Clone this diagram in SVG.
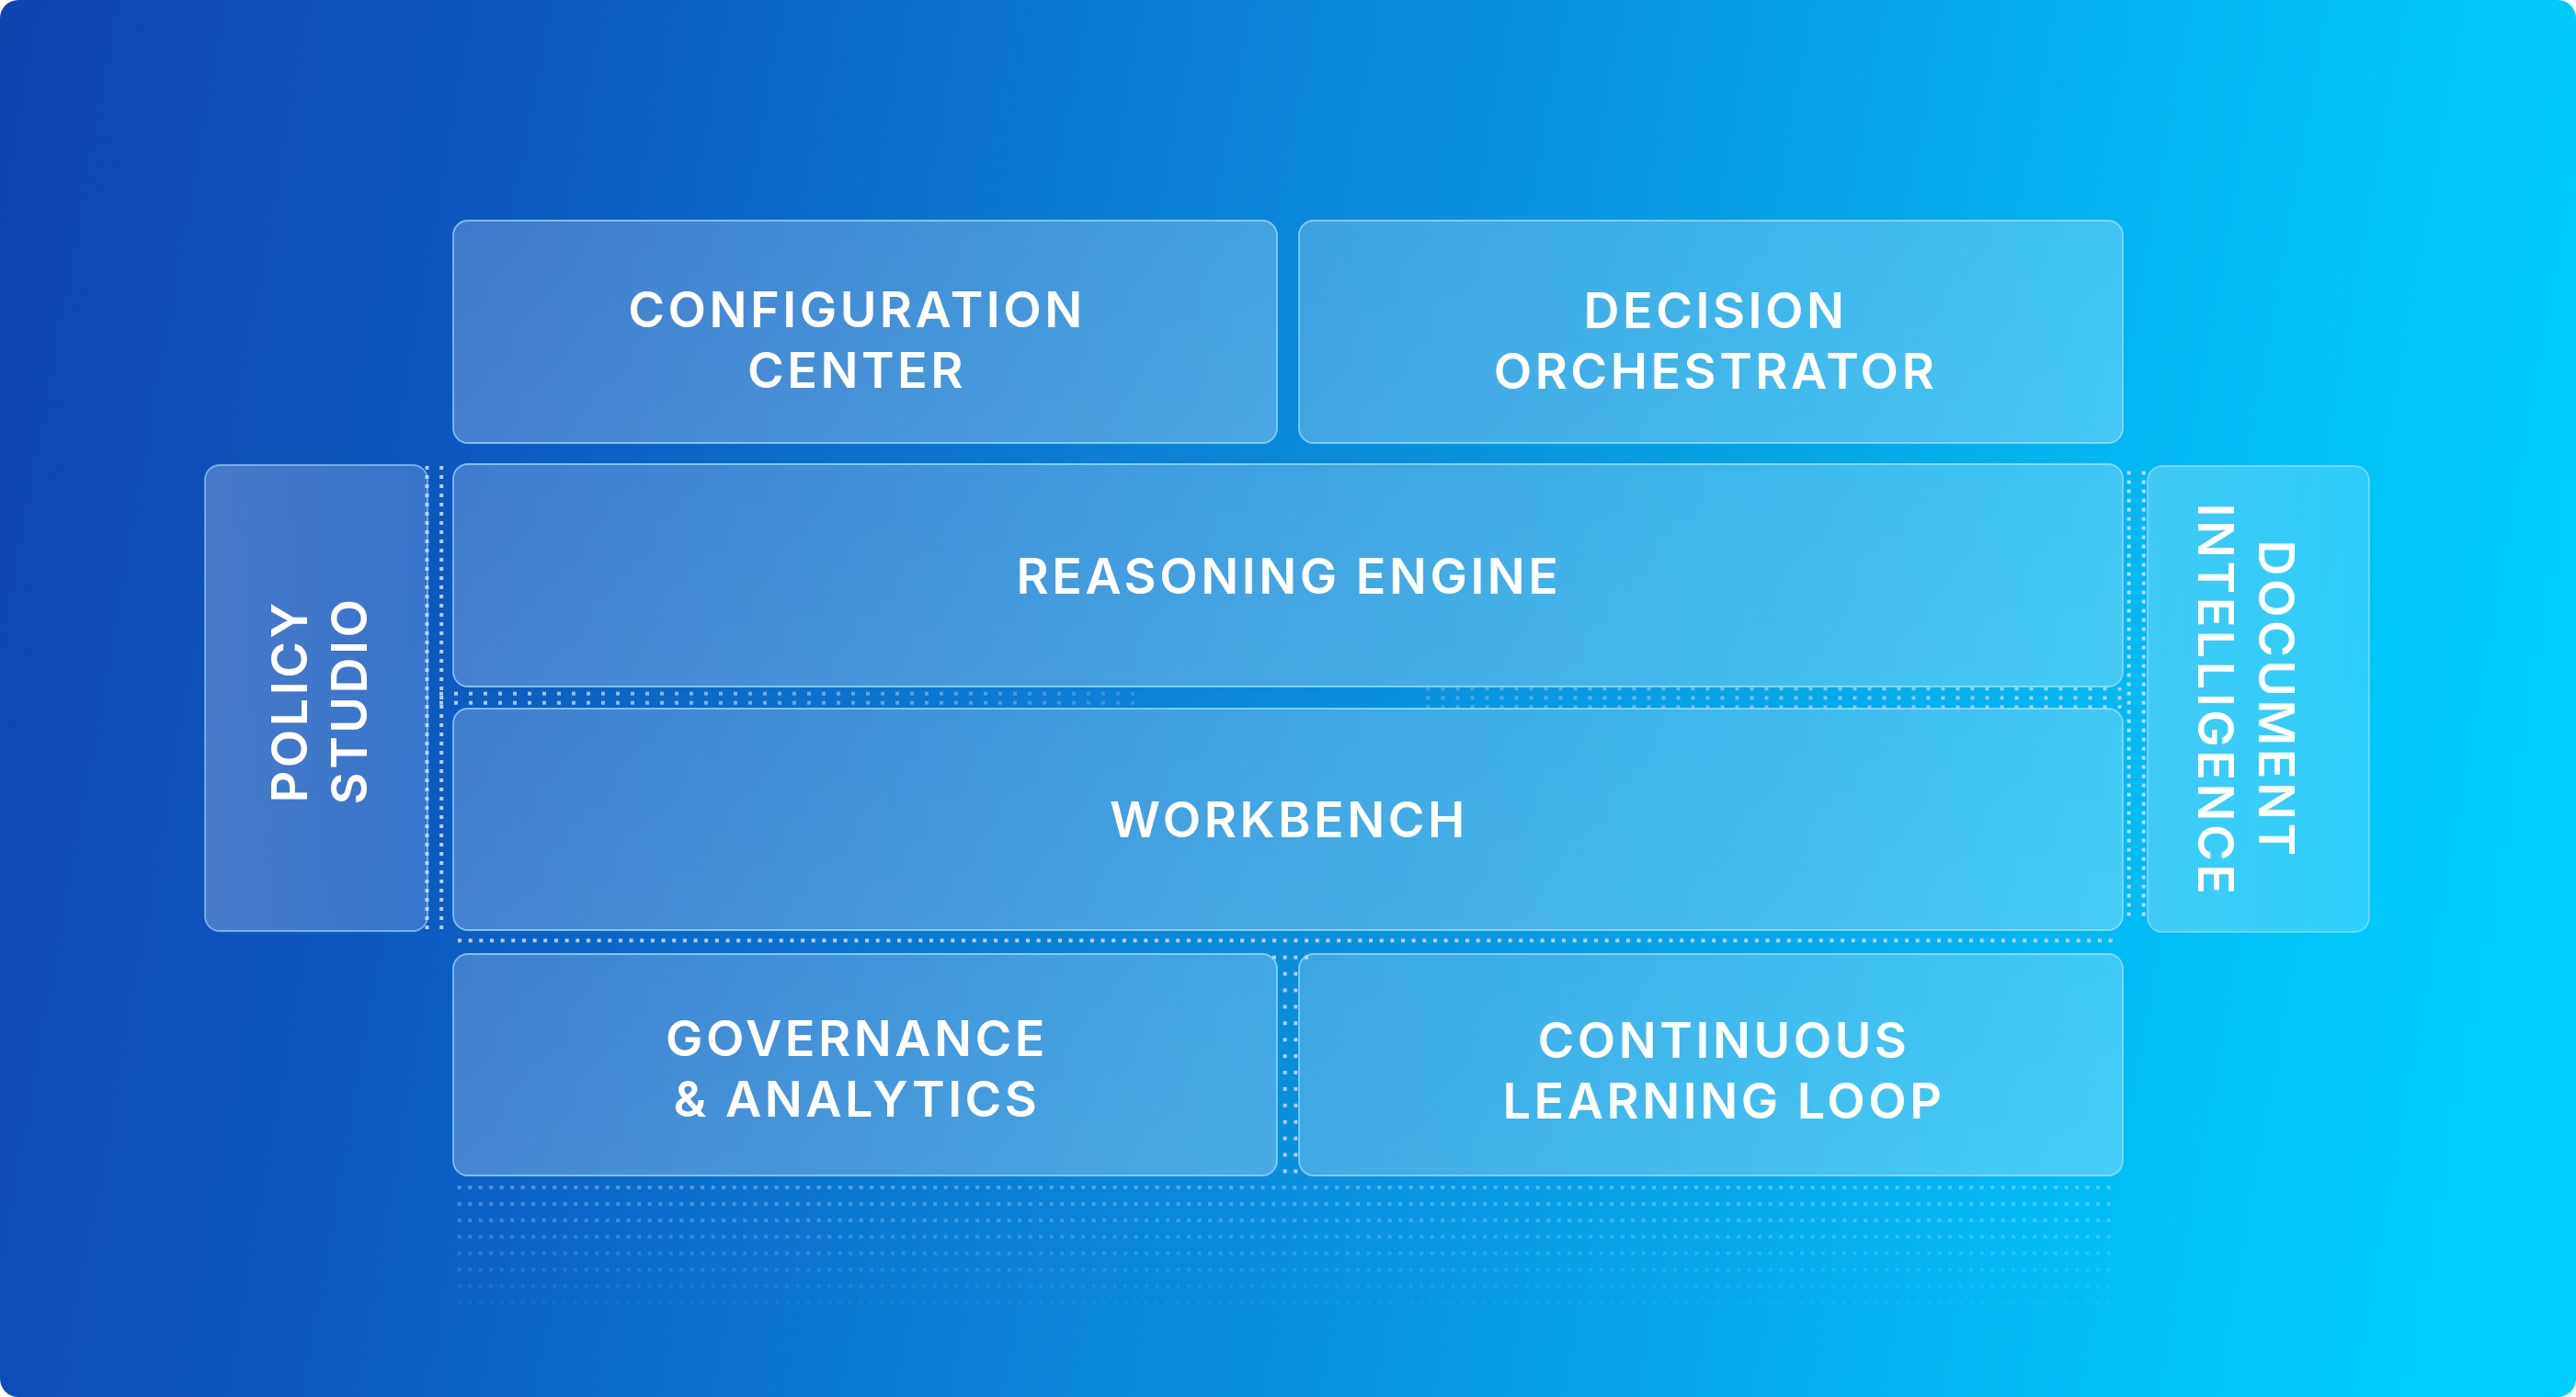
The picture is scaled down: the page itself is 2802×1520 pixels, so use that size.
<svg xmlns="http://www.w3.org/2000/svg" width="2802" height="1520" viewBox="0 0 2802 1520">
  <defs>
    <linearGradient id="bg" x1="0" y1="0" x2="2802" y2="500" gradientUnits="userSpaceOnUse">
      <stop offset="0" stop-color="#0f44ad"/>
      <stop offset="0.2" stop-color="#0d58bf"/>
      <stop offset="0.5" stop-color="#0a86d7"/>
      <stop offset="0.8" stop-color="#05b2ef"/>
      <stop offset="1" stop-color="#00cefe"/>
    </linearGradient>
    <linearGradient id="boxFill" x1="0" y1="0" x2="1" y2="1">
      <stop offset="0" stop-color="#ffffff" stop-opacity="0.21"/>
      <stop offset="1" stop-color="#ffffff" stop-opacity="0.26"/>
    </linearGradient>
    <linearGradient id="sideFill" x1="0" y1="0" x2="1" y2="0">
      <stop offset="0" stop-color="#ffffff" stop-opacity="0.24"/>
      <stop offset="1" stop-color="#ffffff" stop-opacity="0.17"/>
    </linearGradient>
    <pattern id="pLeftV" patternUnits="userSpaceOnUse" x="462.5" y="507" width="15.7" height="10">
      <rect width="4" height="4" fill="#cdd8ea"/>
    </pattern>
    <pattern id="pRightV" patternUnits="userSpaceOnUse" x="2313.7" y="512.6" width="16" height="10">
      <rect width="4" height="4" fill="#cdd8ea"/>
    </pattern>
    <pattern id="pMidL" patternUnits="userSpaceOnUse" x="478" y="752.7" width="16" height="10">
      <rect width="4" height="4" fill="#cdd8ea"/>
    </pattern>
    <pattern id="pMidR" patternUnits="userSpaceOnUse" x="1551.5" y="747.3" width="16" height="10">
      <rect width="4" height="4" fill="#cdd8ea"/>
    </pattern>
    <pattern id="pRow" patternUnits="userSpaceOnUse" x="498" y="1021.3" width="11.66" height="20">
      <rect width="4" height="4" fill="#cdd8ea"/>
    </pattern>
    <pattern id="pBotV" patternUnits="userSpaceOnUse" x="1395.7" y="1039.7" width="11.66" height="17.9">
      <rect width="4" height="4" fill="#cdd8ea"/>
    </pattern>
    <pattern id="pGrid" patternUnits="userSpaceOnUse" x="497.7" y="1290" width="11.5" height="17.9">
      <rect width="4" height="4" fill="#ffffff"/>
    </pattern>
    <linearGradient id="fadeLG" x1="478" y1="0" x2="1245" y2="0" gradientUnits="userSpaceOnUse">
      <stop offset="0" stop-color="#fff" stop-opacity="0.9"/>
      <stop offset="1" stop-color="#fff" stop-opacity="0.2"/>
    </linearGradient>
    <linearGradient id="fadeRG" x1="1551" y1="0" x2="2307" y2="0" gradientUnits="userSpaceOnUse">
      <stop offset="0" stop-color="#fff" stop-opacity="0.3"/>
      <stop offset="1" stop-color="#fff" stop-opacity="0.85"/>
    </linearGradient>
    <linearGradient id="fadeGrid" x1="0" y1="1288" x2="0" y2="1422" gradientUnits="userSpaceOnUse">
      <stop offset="0" stop-color="#fff" stop-opacity="0.3"/>
      <stop offset="1" stop-color="#fff" stop-opacity="0.04"/>
    </linearGradient>
    <mask id="mL" maskUnits="userSpaceOnUse" x="0" y="0" width="2802" height="1520">
      <rect x="470" y="745" width="790" height="30" fill="url(#fadeLG)"/>
    </mask>
    <mask id="mR" maskUnits="userSpaceOnUse" x="0" y="0" width="2802" height="1520">
      <rect x="1545" y="745" width="770" height="30" fill="url(#fadeRG)"/>
    </mask>
    <mask id="mG" maskUnits="userSpaceOnUse" x="0" y="0" width="2802" height="1520">
      <rect x="490" y="1285" width="1820" height="140" fill="url(#fadeGrid)"/>
    </mask>
    <style>
      .box { fill: url(#boxFill); stroke: #a6e2ff; stroke-opacity: 0.7; stroke-width: 1.8; }
      .side { fill: url(#sideFill); stroke: #a6e2ff; stroke-opacity: 0.6; stroke-width: 1.8; }
      .lbl { font-family: "Inter", "Liberation Sans", sans-serif; font-weight: 600; font-size: 54px; letter-spacing: 3.5px; fill: #ffffff; text-anchor: middle; }
    </style>
  </defs>

  <rect x="0" y="0" width="2802" height="1520" rx="20" fill="url(#bg)"/>

  <g id="connectors">
    <rect x="460" y="507" width="32" height="505" fill="url(#pLeftV)" opacity="0.9"/>
    <rect x="2312" y="512" width="22" height="486" fill="url(#pRightV)" opacity="0.9"/>
    <rect x="478" y="752" width="768" height="16" fill="url(#pMidL)" mask="url(#mL)"/>
    <rect x="1551" y="748" width="758" height="23" fill="url(#pMidR)" mask="url(#mR)"/>
    <rect x="498" y="1021" width="1802" height="5" fill="url(#pRow)" opacity="0.9"/>
    <rect x="1395" y="1039" width="17" height="240" fill="url(#pBotV)" opacity="0.85"/>
    <rect x="1384" y="1039.7" width="4" height="4" fill="#cdd8ea" opacity="0.85"/>
    <rect x="1419" y="1039.7" width="4" height="4" fill="#cdd8ea" opacity="0.85"/>
    <rect x="497" y="1289" width="1803" height="132" fill="url(#pGrid)" mask="url(#mG)"/>
  </g>

  <g id="configuration-center">
    <rect class="box" x="493" y="240" width="896" height="242" rx="16"/>
    <text class="lbl" x="932" y="356">CONFIGURATION</text>
    <text class="lbl" x="932" y="422">CENTER</text>
  </g>
  <g id="decision-orchestrator">
    <rect class="box" x="1413" y="240" width="896" height="242" rx="16"/>
    <text class="lbl" x="1866" y="357">DECISION</text>
    <text class="lbl" x="1866" y="423">ORCHESTRATOR</text>
  </g>
  <g id="policy-studio">
    <rect class="side" x="223" y="506" width="242" height="507" rx="16"/>
    <text class="lbl" transform="translate(334,763) rotate(-90)">POLICY</text>
    <text class="lbl" transform="translate(398.5,762) rotate(-90)">STUDIO</text>
  </g>
  <g id="reasoning-engine">
    <rect class="box" x="493" y="505" width="1816" height="242" rx="16"/>
    <text class="lbl" x="1402" y="646">REASONING ENGINE</text>
  </g>
  <g id="workbench">
    <rect class="box" x="493" y="771" width="1816" height="241" rx="16"/>
    <text class="lbl" x="1402" y="911">WORKBENCH</text>
  </g>
  <g id="document-intelligence">
    <rect class="side" x="2336" y="507" width="241" height="507" rx="16"/>
    <text class="lbl" transform="translate(2457,761) rotate(90)">DOCUMENT</text>
    <text class="lbl" transform="translate(2391,762) rotate(90)">INTELLIGENCE</text>
  </g>
  <g id="governance-analytics">
    <rect class="box" x="493" y="1038" width="896" height="241" rx="16"/>
    <text class="lbl" x="932" y="1149">GOVERNANCE</text>
    <text class="lbl" x="932" y="1215">&amp; ANALYTICS</text>
  </g>
  <g id="continuous-learning-loop">
    <rect class="box" x="1413" y="1038" width="896" height="241" rx="16"/>
    <text class="lbl" x="1875" y="1151">CONTINUOUS</text>
    <text class="lbl" x="1875" y="1217">LEARNING LOOP</text>
  </g>
</svg>
